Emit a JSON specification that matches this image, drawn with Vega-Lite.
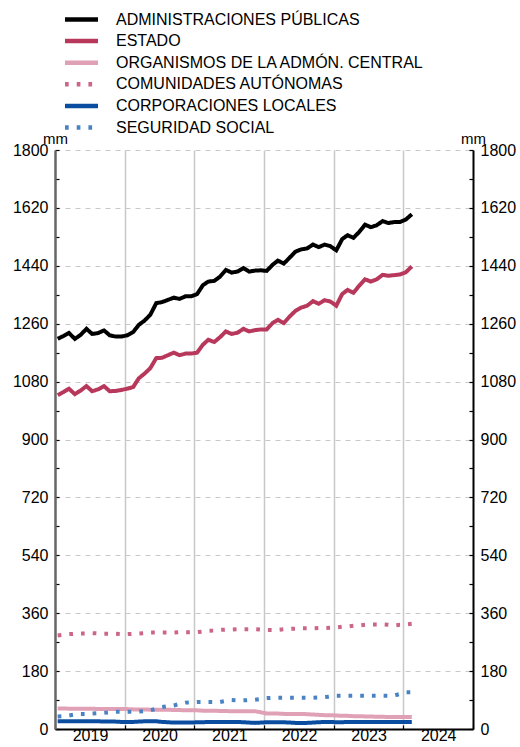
{
 "$schema": "https://vega.github.io/schema/vega-lite/v6.json",
 "width": 418, "height": 579,
 "autosize": {"type": "none"},
 "padding": {"left": 55, "top": 150, "right": 47, "bottom": 18},
 "background": "white",
 "config": {
  "view": {"stroke": null},
  "font": "Liberation Sans",
  "axis": {"labelFont": "Liberation Sans", "labelFontSize": 16, "labelColor": "#000", "tickColor": "#000", "tickWidth": 1.2, "titleFont": "Liberation Sans"},
  "legend": {"labelFont": "Liberation Sans", "labelFontSize": 16, "labelColor": "#000", "labelLimit": 0}
 },
 "data": {"values": [
  {"date":"2019-01-15","AP":1213,"E":1038,"OAC":64,"CA":291,"CL":24,"SS":39},
  {"date":"2019-02-15","AP":1222,"E":1048,"OAC":64,"CA":293,"CL":24,"SS":40},
  {"date":"2019-03-15","AP":1231,"E":1058,"OAC":63,"CA":295,"CL":24,"SS":42},
  {"date":"2019-04-15","AP":1213,"E":1041,"OAC":63,"CA":296,"CL":24,"SS":45},
  {"date":"2019-05-15","AP":1225,"E":1052,"OAC":63,"CA":297,"CL":24,"SS":47},
  {"date":"2019-06-15","AP":1244,"E":1066,"OAC":63,"CA":297,"CL":24,"SS":47},
  {"date":"2019-07-15","AP":1228,"E":1050,"OAC":63,"CA":298,"CL":24,"SS":48},
  {"date":"2019-08-15","AP":1231,"E":1056,"OAC":62,"CA":297,"CL":24,"SS":49},
  {"date":"2019-09-15","AP":1239,"E":1066,"OAC":62,"CA":296,"CL":23,"SS":50},
  {"date":"2019-10-15","AP":1224,"E":1050,"OAC":62,"CA":296,"CL":23,"SS":52},
  {"date":"2019-11-15","AP":1220,"E":1051,"OAC":62,"CA":296,"CL":23,"SS":54},
  {"date":"2019-12-15","AP":1220,"E":1054,"OAC":62,"CA":295,"CL":22,"SS":54},
  {"date":"2020-01-15","AP":1224,"E":1058,"OAC":62,"CA":295,"CL":22,"SS":54},
  {"date":"2020-02-15","AP":1234,"E":1063,"OAC":61,"CA":296,"CL":22,"SS":54},
  {"date":"2020-03-15","AP":1256,"E":1090,"OAC":61,"CA":297,"CL":23,"SS":54},
  {"date":"2020-04-15","AP":1270,"E":1105,"OAC":61,"CA":298,"CL":24,"SS":56},
  {"date":"2020-05-15","AP":1288,"E":1122,"OAC":60,"CA":300,"CL":24,"SS":58},
  {"date":"2020-06-15","AP":1324,"E":1153,"OAC":60,"CA":300,"CL":24,"SS":63},
  {"date":"2020-07-15","AP":1327,"E":1154,"OAC":60,"CA":300,"CL":22,"SS":68},
  {"date":"2020-08-15","AP":1334,"E":1162,"OAC":60,"CA":300,"CL":21,"SS":71},
  {"date":"2020-09-15","AP":1341,"E":1170,"OAC":59,"CA":300,"CL":20,"SS":73},
  {"date":"2020-10-15","AP":1337,"E":1162,"OAC":59,"CA":301,"CL":20,"SS":78},
  {"date":"2020-11-15","AP":1345,"E":1167,"OAC":58,"CA":301,"CL":20,"SS":82},
  {"date":"2020-12-15","AP":1345,"E":1167,"OAC":58,"CA":301,"CL":20,"SS":83},
  {"date":"2021-01-15","AP":1352,"E":1170,"OAC":58,"CA":301,"CL":21,"SS":84},
  {"date":"2021-02-15","AP":1380,"E":1195,"OAC":57,"CA":303,"CL":21,"SS":84},
  {"date":"2021-03-15","AP":1391,"E":1210,"OAC":57,"CA":305,"CL":22,"SS":84},
  {"date":"2021-04-15","AP":1393,"E":1203,"OAC":57,"CA":306,"CL":22,"SS":84},
  {"date":"2021-05-15","AP":1406,"E":1218,"OAC":56,"CA":308,"CL":22,"SS":84},
  {"date":"2021-06-15","AP":1427,"E":1236,"OAC":56,"CA":309,"CL":22,"SS":87},
  {"date":"2021-07-15","AP":1419,"E":1228,"OAC":55,"CA":309,"CL":22,"SS":90},
  {"date":"2021-08-15","AP":1422,"E":1232,"OAC":55,"CA":310,"CL":22,"SS":89},
  {"date":"2021-09-15","AP":1433,"E":1244,"OAC":55,"CA":310,"CL":21,"SS":89},
  {"date":"2021-10-15","AP":1422,"E":1236,"OAC":55,"CA":310,"CL":20,"SS":90},
  {"date":"2021-11-15","AP":1425,"E":1240,"OAC":55,"CA":310,"CL":19,"SS":91},
  {"date":"2021-12-15","AP":1426,"E":1242,"OAC":52,"CA":309,"CL":20,"SS":93},
  {"date":"2022-01-15","AP":1424,"E":1242,"OAC":48,"CA":308,"CL":21,"SS":96},
  {"date":"2022-02-15","AP":1443,"E":1262,"OAC":48,"CA":308,"CL":21,"SS":97},
  {"date":"2022-03-15","AP":1456,"E":1272,"OAC":48,"CA":308,"CL":21,"SS":97},
  {"date":"2022-04-15","AP":1447,"E":1262,"OAC":47,"CA":310,"CL":21,"SS":97},
  {"date":"2022-05-15","AP":1465,"E":1282,"OAC":47,"CA":311,"CL":20,"SS":97},
  {"date":"2022-06-15","AP":1484,"E":1300,"OAC":47,"CA":312,"CL":19,"SS":97},
  {"date":"2022-07-15","AP":1491,"E":1310,"OAC":47,"CA":313,"CL":19,"SS":97},
  {"date":"2022-08-15","AP":1494,"E":1316,"OAC":46,"CA":313,"CL":19,"SS":97},
  {"date":"2022-09-15","AP":1506,"E":1330,"OAC":45,"CA":313,"CL":20,"SS":97},
  {"date":"2022-10-15","AP":1498,"E":1322,"OAC":44,"CA":314,"CL":21,"SS":98},
  {"date":"2022-11-15","AP":1506,"E":1333,"OAC":43,"CA":314,"CL":22,"SS":99},
  {"date":"2022-12-15","AP":1501,"E":1329,"OAC":43,"CA":315,"CL":22,"SS":101},
  {"date":"2023-01-15","AP":1488,"E":1316,"OAC":42,"CA":316,"CL":21,"SS":103},
  {"date":"2023-02-15","AP":1523,"E":1352,"OAC":41,"CA":318,"CL":21,"SS":103},
  {"date":"2023-03-15","AP":1535,"E":1365,"OAC":41,"CA":319,"CL":22,"SS":103},
  {"date":"2023-04-15","AP":1527,"E":1356,"OAC":40,"CA":321,"CL":22,"SS":103},
  {"date":"2023-05-15","AP":1545,"E":1378,"OAC":40,"CA":322,"CL":22,"SS":103},
  {"date":"2023-06-15","AP":1568,"E":1398,"OAC":39,"CA":324,"CL":22,"SS":103},
  {"date":"2023-07-15","AP":1560,"E":1391,"OAC":39,"CA":325,"CL":22,"SS":103},
  {"date":"2023-08-15","AP":1566,"E":1398,"OAC":38,"CA":325,"CL":22,"SS":103},
  {"date":"2023-09-15","AP":1579,"E":1412,"OAC":38,"CA":325,"CL":22,"SS":103},
  {"date":"2023-10-15","AP":1573,"E":1409,"OAC":37,"CA":324,"CL":22,"SS":103},
  {"date":"2023-11-15","AP":1576,"E":1411,"OAC":37,"CA":322,"CL":22,"SS":104},
  {"date":"2023-12-15","AP":1576,"E":1413,"OAC":37,"CA":324,"CL":22,"SS":109},
  {"date":"2024-01-15","AP":1584,"E":1420,"OAC":37,"CA":325,"CL":22,"SS":114},
  {"date":"2024-02-15","AP":1600,"E":1438,"OAC":37,"CA":327,"CL":22,"SS":114}
 ]},
 "transform": [{"fold": ["AP","E","OAC","CA","CL","SS"], "as": ["series","value"]}],
 "layer": [
  {
   "mark": {"type": "line", "strokeWidth": 4},
   "encoding": {
    "x": {"field": "date", "type": "temporal",
     "scale": {"domain": [{"year":2019,"month":1,"date":1},{"year":2025,"month":1,"date":1}]},
     "axis": {"title": null, "orient": "bottom",
      "values": [
       {"year":2019,"month":1,"date":1},{"year":2019,"month":4,"date":1},{"year":2019,"month":7,"date":1},{"year":2019,"month":10,"date":1},
       {"year":2020,"month":1,"date":1},{"year":2020,"month":4,"date":1},{"year":2020,"month":7,"date":1},{"year":2020,"month":10,"date":1},
       {"year":2021,"month":1,"date":1},{"year":2021,"month":4,"date":1},{"year":2021,"month":7,"date":1},{"year":2021,"month":10,"date":1},
       {"year":2022,"month":1,"date":1},{"year":2022,"month":4,"date":1},{"year":2022,"month":7,"date":1},{"year":2022,"month":10,"date":1},
       {"year":2023,"month":1,"date":1},{"year":2023,"month":4,"date":1},{"year":2023,"month":7,"date":1},{"year":2023,"month":10,"date":1},
       {"year":2024,"month":1,"date":1},{"year":2024,"month":4,"date":1},{"year":2024,"month":7,"date":1},{"year":2024,"month":10,"date":1},
       {"year":2025,"month":1,"date":1}],
      "format": "%Y",
      "labelExpr": "month(datum.value) === 0 && year(datum.value) < 2025 ? datum.label : ''",
      "labelOffset": 35, "labelFlush": false, "labelOverlap": false, "labelBound": false,
      "labelPadding": 2,
      "tickSize": -4,
      "domainColor": "#000", "domainWidth": 2,
      "grid": true, "gridColor": "#c8c8c8", "gridWidth": 1.5,
      "gridOpacity": {"condition": {"test": "month(datum.value) !== 0 || year(datum.value) === 2019 || year(datum.value) === 2025", "value": 0}, "value": 1}
     }
    },
    "y": {"field": "value", "type": "quantitative",
     "scale": {"domain": [0, 1800], "nice": false, "zero": true},
     "axis": {"orient": "left",
      "values": [0,90,180,270,360,450,540,630,720,810,900,990,1080,1170,1260,1350,1440,1530,1620,1710,1800],
      "format": "d",
      "labelExpr": "datum.value % 180 === 0 ? datum.label : ''",
      "labelPadding": 11,
      "tickSize": -4,
      "domainColor": "#666", "domainWidth": 2.5,
      "grid": true, "gridColor": "#c8c8c8", "gridDash": [5, 5], "gridWidth": 1,
      "gridOpacity": {"condition": {"test": "datum.value % 180 !== 0 || datum.value === 0", "value": 0}, "value": 1},
      "title": "mm", "titleAngle": 0, "titleX": 0, "titleY": -4, "titleAlign": "center", "titleBaseline": "bottom",
      "titleFontWeight": "normal", "titleFontSize": 15, "titleColor": "#000"
     }
    },
    "color": {"field": "series", "type": "nominal",
     "scale": {"domain": ["AP","E","OAC","CA","CL","SS"], "range": ["#000000","#b8385c","#e0a0b5","#cc6688","#0a4da0","#4a83c4"]},
     "legend": {"title": null, "orient": "none", "legendX": 16, "legendY": -141,
      "symbolType": "M-2,0H2", "symbolSize": 272, "symbolStrokeWidth": 4.5, "labelOffset": 24, "rowPadding": 1.6, "padding": 0,
      "labelExpr": "{'AP':'ADMINISTRACIONES PÚBLICAS','E':'ESTADO','OAC':'ORGANISMOS DE LA ADMÓN. CENTRAL','CA':'COMUNIDADES AUTÓNOMAS','CL':'CORPORACIONES LOCALES','SS':'SEGURIDAD SOCIAL'}[datum.value]"}
    },
    "strokeDash": {"field": "series", "type": "nominal",
     "scale": {"domain": ["AP","E","OAC","CA","CL","SS"], "range": [[1,0],[1,0],[1,0],[3.7,8],[1,0],[3.7,8]]},
     "legend": {"title": null, "orient": "none", "legendX": 16, "legendY": -141,
      "symbolType": "M-2,0H2", "symbolSize": 272, "symbolStrokeWidth": 4.5, "labelOffset": 24, "rowPadding": 1.6, "padding": 0,
      "labelExpr": "{'AP':'ADMINISTRACIONES PÚBLICAS','E':'ESTADO','OAC':'ORGANISMOS DE LA ADMÓN. CENTRAL','CA':'COMUNIDADES AUTÓNOMAS','CL':'CORPORACIONES LOCALES','SS':'SEGURIDAD SOCIAL'}[datum.value]"}
    }
   }
  },
  {
   "mark": {"type": "line", "opacity": 0},
   "encoding": {
    "x": {"field": "date", "type": "temporal"},
    "y": {"field": "value", "type": "quantitative",
     "axis": {"orient": "right",
      "values": [0,90,180,270,360,450,540,630,720,810,900,990,1080,1170,1260,1350,1440,1530,1620,1710,1800],
      "format": "d",
      "labelExpr": "datum.value % 180 === 0 ? datum.label : ''",
      "labelPadding": 11,
      "tickSize": -4,
      "domainColor": "#000", "domainWidth": 2,
      "grid": false,
      "title": "mm", "titleAngle": 0, "titleX": 0, "titleY": -4, "titleAlign": "center", "titleBaseline": "bottom",
      "titleFontWeight": "normal", "titleFontSize": 15, "titleColor": "#000"
     }
    },
    "detail": {"field": "series"}
   }
  }
 ],
 "resolve": {"axis": {"y": "independent"}}
}
